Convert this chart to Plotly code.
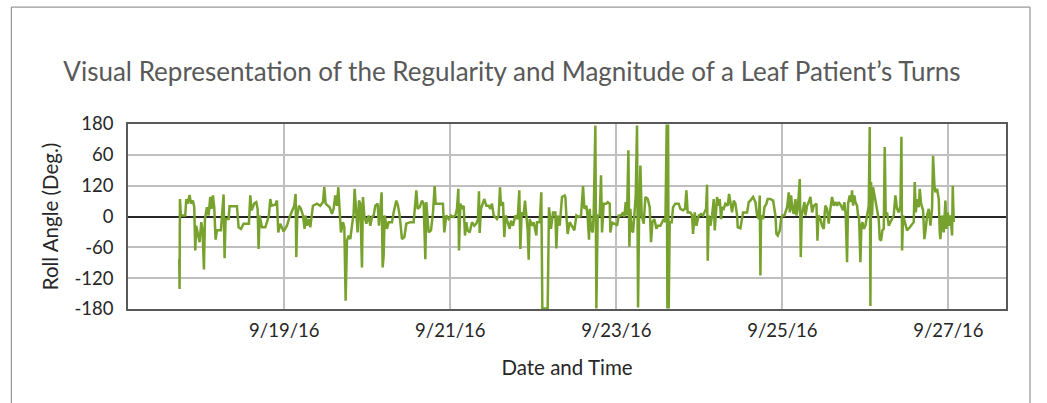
import pandas as pd
import plotly.graph_objects as go

# ---- data ----
start_time = "2016-09-17 00:00"

hours_since_start = [
    17.63, 17.73, 17.83, 18.12, 19.37, 19.66, 20.04, 20.62, 21.01, 21.59, 21.97, 22.26, 22.55, 23.13, 23.51,
    24.00, 24.38, 24.77, 25.06, 25.63, 26.12, 26.60, 26.98, 27.37, 27.75, 28.14, 28.53, 29.68, 30.07, 30.45,
    30.74, 31.03, 31.90, 32.19, 34.31, 34.79, 35.47, 36.24, 37.78, 38.17, 38.55, 39.32, 39.90, 40.29, 40.58,
    40.87, 41.54, 42.50, 42.99, 43.56, 43.95, 44.34, 45.40, 45.88, 46.26, 46.84, 47.81, 48.77, 49.54, 50.22,
    50.89, 51.28, 51.47, 51.76, 52.24, 52.82, 53.40, 53.88,
    54.08, 54.56, 55.04, 55.52, 56.00, 56.29, 57.45, 58.41, 59.19, 59.57, 59.96, 61.11, 61.79, 62.27, 62.75,
    63.23, 63.62, 64.01, 64.39, 64.97, 65.36, 65.74, 66.13, 66.61, 67.09, 67.57, 68.05, 68.34, 68.83, 69.21,
    69.60, 69.98, 70.46, 70.75, 71.14, 71.72, 72.39, 72.87, 73.36, 73.84, 74.32, 74.99, 75.38, 75.77, 76.15,
    76.44, 76.73, 77.02, 77.69, 78.18, 79.14, 79.62, 80.39, 80.88, 81.36, 82.03, 82.71, 83.29, 84.44, 85.41,
    86.18, 86.56, 87.14, 87.82, 88.30, 88.78, 89.07, 89.74, 90.42, 91.00, 91.48,
    91.76, 93.88, 94.27, 94.85, 95.52, 96.20, 96.78, 97.45, 97.93, 98.32, 98.51, 98.90, 99.38, 99.86, 100.25,
    100.63, 101.02, 101.60, 102.27, 102.94, 103.52, 104.01, 104.29, 104.49, 104.87, 105.45, 105.84, 106.42,
    107.09, 107.57, 108.05, 108.54, 109.50, 109.98, 110.37, 110.66, 111.24, 111.62, 112.01, 112.58, 113.16,
    113.55, 114.13, 114.80, 115.48, 115.96, 116.25, 116.63, 117.21, 117.60, 117.98, 118.37, 118.66, 118.95,
    119.62, 120.10, 120.88, 121.07, 121.84, 122.32, 122.61, 124.15, 124.54, 125.12, 125.70, 126.37, 126.66,
    127.04, 127.62, 128.30, 129.07,
    129.27, 129.56, 129.94, 130.52, 131.19, 131.87, 132.45, 133.12, 133.80, 134.38, 134.76, 135.34, 135.72,
    136.11, 136.30, 136.69, 137.17, 137.46, 137.94, 138.23, 138.62, 139.20, 139.58, 139.87, 140.35, 141.12,
    141.51, 142.09, 142.28, 142.76, 143.24, 143.73, 144.21, 144.69, 145.36, 145.94, 146.33, 146.71, 147.10,
    147.49, 147.77, 148.06, 148.45, 148.84, 149.22, 149.61, 149.99, 150.28, 150.57, 150.96, 151.34, 151.92,
    152.40, 153.08, 153.66, 154.04, 154.43, 155.00, 155.58, 155.97, 156.74, 157.22, 157.70, 158.19, 158.57,
    158.76, 158.96, 159.15, 159.44, 160.02, 160.40, 161.08, 162.04, 162.52, 163.30, 163.87, 164.26, 164.64,
    165.42, 165.90, 166.19, 166.67,
    167.16, 167.83, 168.50, 169.08, 169.47, 169.95, 170.24, 170.43, 170.72, 171.20, 171.69, 172.17, 172.46,
    172.84, 173.13, 173.61, 173.90, 174.29, 174.58, 175.06, 175.54, 176.22, 176.60, 176.99, 177.47, 177.95,
    178.43, 178.92, 179.11, 179.88, 180.36, 180.65, 181.81, 182.29, 182.77, 183.54, 184.22, 184.70, 185.18,
    185.47, 185.66, 185.86, 186.44, 186.82, 187.40, 187.78, 188.56, 189.33, 190.00, 190.29, 190.68, 191.26,
    191.64, 192.03, 192.60, 193.38, 193.86, 194.15, 194.53, 194.92, 195.30, 195.79, 196.08, 196.46, 197.04,
    197.33, 197.62, 198.00, 198.39, 198.68, 199.16, 199.64, 200.12, 200.61, 201.09, 201.86, 202.15, 202.44,
    203.02, 203.50, 203.98, 204.27,
    204.45, 204.93, 205.41, 205.89, 206.37, 206.86, 207.34, 207.82, 208.30, 208.98, 209.56, 209.94, 210.33,
    210.71, 211.00, 211.48, 211.87, 212.16, 212.45, 212.83, 213.12, 213.60, 213.89, 214.18, 214.57, 214.86,
    215.15, 215.53, 216.01, 216.50, 216.98, 217.27, 217.46, 217.65, 217.94, 218.23, 218.62, 219.20, 219.58,
    219.87, 220.16, 220.54, 220.93, 221.32, 221.61, 221.89, 222.28, 222.76, 223.24, 223.73, 224.21, 224.69,
    225.17, 225.65, 226.14, 226.43, 226.62, 226.91, 227.58, 228.06, 228.84, 229.51, 229.99, 230.28, 230.57,
    230.96, 231.44, 231.73, 232.11, 232.69, 233.08, 233.46, 233.85, 234.33, 234.81, 235.29, 235.58, 235.97,
    236.26, 236.74, 237.22, 237.51, 237.70, 238.19, 238.67, 239.15, 239.44, 239.82, 240.21, 240.60, 241.08,
    241.27, 241.56,
]

roll_deg = [
    -83, -141, 34, 2, 2, 34, 25, 42, 25, 31, 18, -66, -18, -37, -50,
    -11, -27, -103, -5, 18, 2, 38, 15, 41, 18, -45, -27, -27, 2, 43,
    -81, -5, -5, 20, 20, -21, -24, -14, -14, 41, 12, 25, 28, 15, -63,
    2, -21, -21, -11, 2, 34, 21, 23, 31, -31, -14, -29, -18, -1, 12,
    21, 44, -79, 2, 21, 15, 2, -24,
    2, -18, -5, -21, 2, 21, 25, 21, 28, 57, 25, 18, 5, 15, 41,
    21, 57, 2, -31, -11, -21, -164, -47, -37, -44, -18, 5, 54, 2, -31,
    31, 25, -99, 38, 2, -14, 2, -18, -1, 2, 21, 25, -18, 25, 47,
    -99, -76, 2, -24, -11, -11, 8, 31, 21, 2, -44, -40, -14, -11, -11,
    51, 15, 18, 31, 25, -83, 28, -31, -27, 8, 59,
    25, 25, -31, 2, -5, 2, -1, 2, 15, 54, -66, 25, 15, 21, -37,
    -11, -27, -31, -11, -18, -14, -5, 49, -32, 15, 25, 34, 21,
    21, 15, 25, 2, -5, 2, 57, 21, 28, -40, 2, -11, -24,
    -8, -18, 2, -5, 51, -63, 8, 2, 31, 2, -27, -84, -5,
    -18, -11, -37, -11, -11, 47, -179, -179, 18, -24, 8, 8, -62,
    2, -18, 38, 41,
    38, 2, -34, -11, -18, -27, 2, -1, 2, 59, 15, 21, -1,
    -45, 15, -24, -31, 5, 177, -179, 2, 2, 80, -31, 25, 25,
    28, 25, -31, -11, -14, -14, -18, 2, 2, 8, -1, 28, 2,
    129, -59, 15, -27, -31, 2, 41, 177, -177, -11, 99, 2, -14,
    38, 34, 18, -50, -11, -5, -24, -18, -18, -11, -5, -11, 179,
    -179, 179, -179, -11, -11, 18, 25, 25, 15, 12, 15, 51, 8,
    8, 2, -34, 8,
    -18, 2, 5, 2, 8, 15, 62, -86, 2, -18, 2, 34, -27,
    2, 38, 21, 34, -5, 18, 15, 25, 21, 44, 28, 8, 31,
    25, 2, -21, -23, 2, 8, 8, 28, 31, 38, 28, 2, -5,
    41, -115, 2, -5, 18, 25, 34, 34, 31, 2, -34, -37, -27,
    -5, 2, 2, 18, 47, 8, 41, 15, 5, 34, 2, 15, 73,
    -79, 2, 15, 28, 2, 21, 28, 38, 8, 21, 25, -47, 2,
    -5, -18, -24, 8,
    21, 15, -14, 15, 38, 21, 28, 21, 28, 21, 12, 28, 2,
    -89, 25, 41, 28, 51, 21, 41, 28, 21, 2, -1, -89, -18,
    -11, -24, -18, 2, 21, 174, -174, 67, 2, 57, 41, 15, 8,
    -5, -44, -47, -27, -24, 135, 2, 8, -18, -11, -5, 2, 41,
    15, 8, 21, 155, -66, 2, -14, -27, -21, -14, -11, 67, 8,
    34, 18, 54, 25, 12, -44, -24, 2, 15, -18, 15, 118, 60,
    47, 54, 34, -31, -44, 2, -31, 31, -24, 8, -18, 2, -37,
    60, -11,
]

y_tick_values = [-180, -120, -60, 0, 60, 120, 180]
y_tick_labels = ["-180", "-120", "-60", "0", "120", "60", "180"]

title_text = "Visual Representation of the Regularity and Magnitude of a Leaf Patient\u2019s Turns"
x_title = "Date and Time"
y_title = "Roll Angle (Deg.)"

x_range = ["2016-09-17 02:49", "2016-09-27 16:40"]

# ---- figure ----
times = pd.Timestamp(start_time) + pd.to_timedelta(hours_since_start, unit="h")

fig = go.Figure()
fig.add_trace(go.Scatter(
    x=times, y=roll_deg, mode="lines",
    line=dict(color="#78A22E", width=2.5),
    showlegend=False, hoverinfo="skip",
))

FONT = "Lato"
fig.update_layout(
    width=1047, height=403,
    margin=dict(l=128, r=41, t=124, b=94),
    paper_bgcolor="white", plot_bgcolor="white",
    font=dict(family=FONT, size=18.5, color="#262626"),
    title=dict(text=title_text, x=0.489, xanchor="center", y=0.821, yanchor="middle",
               font=dict(family=FONT, size=26, color="#595959")),
    xaxis=dict(
        type="date", range=x_range,
        tick0="2016-09-19", dtick=2 * 86400000, tickformat="%-m/%-d/%y",
        showgrid=True, gridcolor="#BFBFBF", gridwidth=1.5,
        showline=True, linecolor="#595959", linewidth=1.5, mirror=True,
        ticks="", ticklabelstandoff=4, zeroline=False,
        title=dict(text=x_title, font=dict(family=FONT, size=20.5, color="#262626"), standoff=21),
        tickfont=dict(family=FONT, size=18.5, color="#262626"),
    ),
    yaxis=dict(
        range=[-180, 180], tickvals=y_tick_values, ticktext=y_tick_labels,
        showgrid=True, gridcolor="#BFBFBF", gridwidth=1.5,
        zeroline=True, zerolinecolor="#262626", zerolinewidth=2,
        showline=True, linecolor="#595959", linewidth=1.5, mirror=True,
        ticks="", ticklabelstandoff=9,
        title=dict(text=y_title, font=dict(family=FONT, size=20.5, color="#262626"), standoff=10),
        tickfont=dict(family=FONT, size=18.5, color="#262626"),
    ),
    shapes=[dict(type="rect", xref="paper", yref="paper",
                 x0=-0.1329, x1=1.0273, y0=-0.6, y1=1.632,
                 line=dict(color="#7F7F7F", width=1), fillcolor="rgba(0,0,0,0)", layer="below")],
)

fig.write_html("out.html", config={"displayModeBar": False},
               post_script="document.body.style.margin='0';")
